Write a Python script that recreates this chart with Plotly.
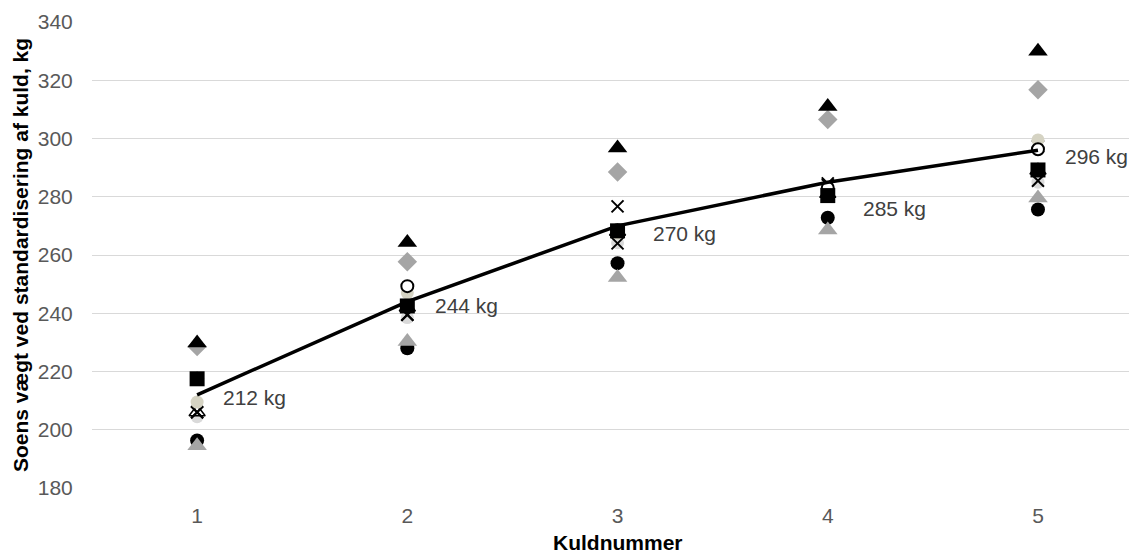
import plotly.graph_objects as go

kuld = [1, 2, 3, 4, 5]
tick_labels = ["1", "2", "3", "4", "5"]

tri_black = [229.8, 264.3, 296.7, 311.0, 330.0]
diamond_gray = [228.6, 257.7, 288.5, 306.5, 316.7]
open_triangle = [206.0, 242.0, 268.0, 281.0, 289.0]
light_circle = [204.5, 238.5, 264.2, 283.0, 285.0]
x_second = [206.0, 239.5, 264.0, 284.0, 285.5]
x_first = [206.0, 239.5, 276.7, 284.6, 297.3]
beige_circle = [209.5, 247.0, 267.5, 281.5, 299.5]
open_circle = [217.5, 249.3, 268.5, 283.0, 296.3]
square_black = [217.5, 242.5, 268.3, 280.4, 289.2]
circle_black = [196.3, 228.0, 257.2, 272.8, 275.6]
tri_gray = [194.5, 230.3, 252.3, 268.6, 279.6]
average = [212, 244, 270, 285, 296]

FONT = "Liberation Sans, Arial, sans-serif"
FS = 21

fig = go.Figure()

def add_markers(y, symbol, color, size, line_color=None, line_width=0):
    fig.add_trace(go.Scatter(
        x=kuld, y=y, mode="markers", showlegend=False, hoverinfo="skip",
        marker=dict(symbol=symbol, color=color, size=size,
                    line=dict(color=line_color or color, width=line_width)),
    ))

add_markers(diamond_gray, "diamond", "#a5a5a5", 15)
add_markers(tri_black, "triangle-up", "#000000", 17)
add_markers(light_circle, "circle", "#d9d9d9", 13)
add_markers(open_triangle, "triangle-up", "#ffffff", 14, "#000000", 1.5)
add_markers(x_second, "x-thin", "#000000", 12, "#000000", 2)
add_markers(x_first, "x-thin", "#000000", 12, "#000000", 2)
add_markers(beige_circle, "circle", "#d5d3c3", 13)
add_markers(open_circle, "circle", "#ffffff", 12, "#000000", 2)
add_markers(square_black, "square", "#000000", 15)
add_markers(circle_black, "circle", "#000000", 14)
add_markers(tri_gray, "triangle-up", "#a5a5a5", 17)

fig.add_trace(go.Scatter(
    x=kuld, y=average, mode="lines", showlegend=False, hoverinfo="skip",
    line=dict(color="#000000", width=3.5),
))

label_xshift = [24, 26, 33, 33, 25]
label_yshift = [-3, -4, -8, -26, -6]
for xi, v, dx, dy in zip(kuld, average, label_xshift, label_yshift):
    fig.add_annotation(x=xi, y=v, text=f"{v} kg", showarrow=False,
                       xanchor="left", yanchor="middle", xshift=dx, yshift=dy,
                       font=dict(family=FONT, size=FS, color="#404040"))

# axis titles
fig.add_annotation(xref="paper", yref="paper", x=(20 - 92) / 1037, y=0.5,
                   text="<b>Soens vægt ved standardisering af kuld, kg</b>",
                   textangle=-90, showarrow=False, xanchor="center", yanchor="middle",
                   font=dict(family=FONT, size=FS, color="#000000"))
fig.add_annotation(xref="x", yref="paper", x=3, y=(488 - 542) / 466,
                   text="<b>Kuldnummer</b>", showarrow=False,
                   xanchor="center", yanchor="middle",
                   font=dict(family=FONT, size=FS, color="#000000"))

fig.update_layout(
    width=1129, height=555,
    margin=dict(l=92, r=0, t=22, b=67),
    paper_bgcolor="#ffffff", plot_bgcolor="#ffffff",
    font=dict(family=FONT, color="#595959"),
    xaxis=dict(
        range=[0.5, 5.433], tickvals=kuld, ticktext=tick_labels,
        showgrid=False, zeroline=False, showline=False, automargin=False,
        ticks="outside", ticklen=9, tickcolor="rgba(0,0,0,0)",
        tickfont=dict(family=FONT, size=FS, color="#595959"),
    ),
    yaxis=dict(
        range=[180, 340], dtick=20, tick0=180,
        showgrid=True, gridcolor="#d9d9d9", gridwidth=1,
        zeroline=False, showline=False, automargin=False,
        ticks="outside", ticklen=14, tickcolor="rgba(0,0,0,0)",
        tickfont=dict(family=FONT, size=FS, color="#595959"),
    ),
)

fig.write_html("out.html")
